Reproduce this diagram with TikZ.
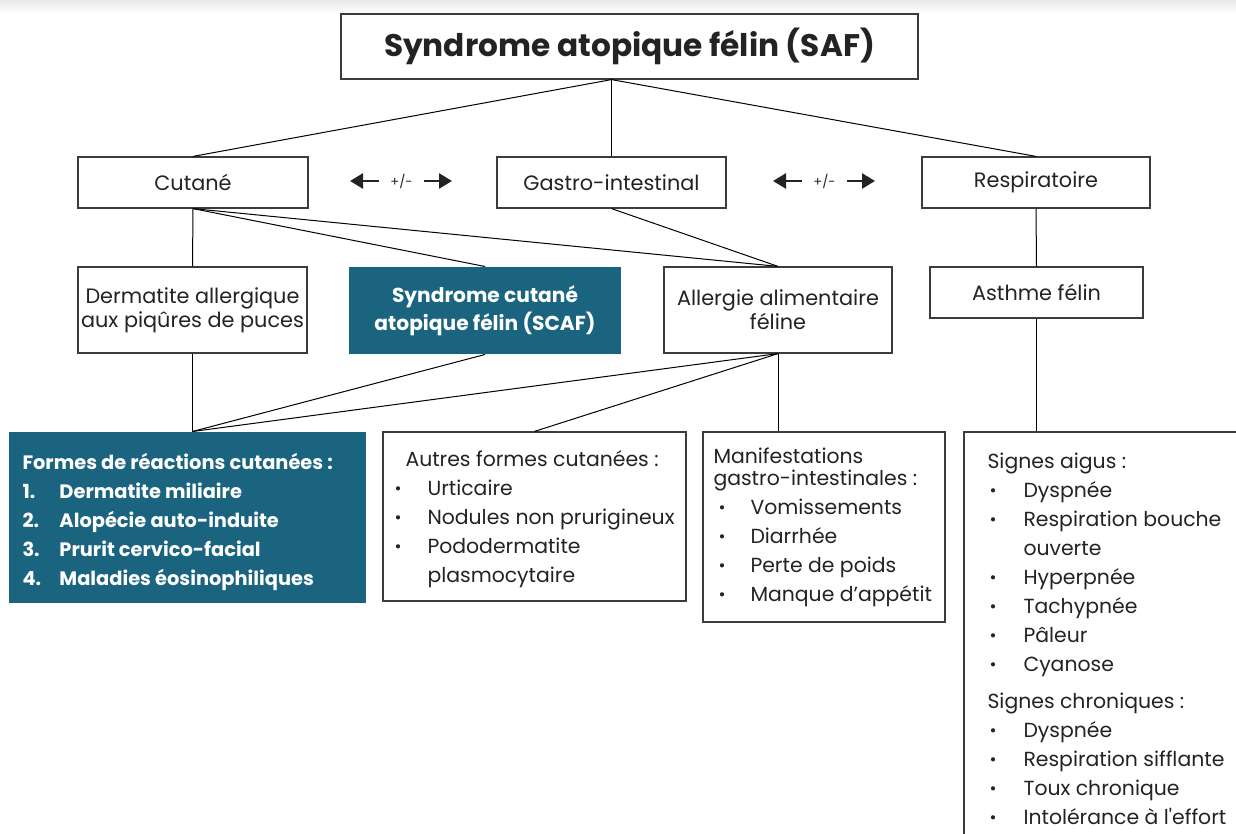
\documentclass[tikz,border=0pt]{standalone}
\usepackage{fontspec}
\setmainfont{Poppins}
\usetikzlibrary{arrows.meta}

\definecolor{scafblue}{RGB}{27,100,128}
\definecolor{ink}{RGB}{35,35,35}
\definecolor{boxline}{RGB}{60,60,60}

\newcommand\boxfont{\fontsize{10.4}{12}\selectfont}
\newcommand\listfont{\fontsize{10.2}{14.5}\selectfont}
\newcommand\tete[1]{\multicolumn{2}{@{}l@{}}{#1}}
\newcommand\puce{{\fontsize{8.5}{8}\selectfont\raisebox{0.2pt}{\textbullet}}}

\begin{document}
\begin{tikzpicture}[x = 0.5pt, y = -0.5pt, line width = 0.5pt,
    box/.style = {rectangle, draw = boxline, line width = 0.6pt, fill = white, inner sep = 0pt, text = ink, font = \boxfont},
    darkbox/.style = {rectangle, fill = scafblue, inner sep = 0pt, text = white, font = \boxfont\bfseries},
    liste/.style = {anchor = base west, inner sep = 0pt, text = ink, font = \listfont},
    pm/.style = {inner sep = 5.5pt, text = ink, font = \fontsize{6.5}{7}\selectfont},
    duo/.style = {-{Triangle[length = 6.5pt, width = 7.5pt]}, line width = 1.3pt, draw = ink}]
  \useasboundingbox (0, 0) rectangle (1236, 834);
  \clip (0, 0) rectangle (1236, 834);
  \shade [top color = black!9, bottom color = white] (0, 0) rectangle (1236, 13);

  \node [box, minimum width = 288.5pt, minimum height = 32.5pt, font = \fontsize{15.6}{17}\selectfont\bfseries] (saf) at (629.5, 46.5) {Syndrome atopique félin (SAF)};

  \node [box, minimum width = 115pt, minimum height = 25.5pt] (cutane) at (193, 182.5) {Cutané};
  \node [box, minimum width = 114.5pt, minimum height = 25.5pt] (gastro) at (611.5, 182.5) {Gastro-intestinal};
  \node [box, minimum width = 114pt, minimum height = 25.5pt] (resp) at (1036, 182.5) {Respiratoire};

  \node [pm] (pm1) at (401.5, 181) {+/-};
  \node [pm] (pm2) at (824.5, 181) {+/-};
  \coordinate (pm1l) at (350, 181);
  \coordinate (pm1r) at (452, 181);
  \coordinate (pm2l) at (773, 181);
  \coordinate (pm2r) at (875, 181);

  \node [box, minimum width = 114.5pt, minimum height = 43pt, align = center] (dermatite) at (192.5, 310) {Dermatite allergique\\aux piqûres de puces};
  \node [darkbox, minimum width = 136pt, minimum height = 43.5pt, align = center, font = \fontsize{10.1}{14}\selectfont\bfseries] (scaf) at (485, 310.5) {Syndrome cutané\\atopique félin (SCAF)};
  \node [box, minimum width = 114pt, minimum height = 43pt, align = center] (allergie) at (778, 310) {Allergie alimentaire\\féline};
  \node [box, minimum width = 106.5pt, minimum height = 25.5pt] (asthme) at (1036.5, 292.5) {Asthme félin};

  \node [darkbox, minimum width = 178.5pt, minimum height = 85.5pt] (formes) at (187.5, 517.5) {};
  \node [box, minimum width = 151.5pt, minimum height = 84.5pt] (autres) at (534.5, 516.5) {};
  \node [box, minimum width = 121pt, minimum height = 95pt] (manif) at (824, 527) {};
  \node [box, minimum width = 148pt, minimum height = 214pt] (signes) at (1112, 646) {};

  \node [liste, text = white, font = \fontsize{9.7}{14.5}\selectfont\bfseries] (formestxt) at (22, 469) {\begin{tabular}[t]{@{}p{18.5pt}@{}l@{}}
    \tete{Formes de réactions cutanées :}\\
    1. & Dermatite miliaire\\
    2. & Alopécie auto-induite\\
    3. & Prurit cervico-facial\\
    4. & Maladies éosinophiliques
  \end{tabular}};
  \node [liste] (autrestxt) at (394, 466) {\begin{tabular}[t]{@{}p{16.5pt}@{}l@{}}
    \tete{\hspace*{5.5pt}Autres formes cutanées :}\\
    \puce & Urticaire\\
    \puce & Nodules non prurigineux\\
    \puce & Pododermatite\\
          & plasmocytaire
  \end{tabular}};
  \node [liste] (maniftxt) at (713, 463) {\begin{tabular}[t]{@{\hspace{2.5pt}}p{16pt}@{}l@{}}
    \tete{Manifestations}\\[-3.5pt]
    \tete{gastro-intestinales :}\\
    \puce & Vomissements\\
    \puce & Diarrhée\\
    \puce & Perte de poids\\
    \puce & Manque d’appétit
  \end{tabular}};
  \node [liste] (signestxt) at (987, 468) {\begin{tabular}[t]{@{\hspace{1pt}}p{17pt}@{}l@{}}
    \tete{Signes aigus :}\\
    \puce & Dyspnée\\
    \puce & Respiration bouche\\
          & ouverte\\
    \puce & Hyperpnée\\
    \puce & Tachypnée\\
    \puce & Pâleur\\
    \puce & Cyanose\\[4pt]
    \tete{Signes chroniques :}\\
    \puce & Dyspnée\\
    \puce & Respiration sifflante\\
    \puce & Toux chronique\\
    \puce & Intolérance à l\textquotesingle effort
  \end{tabular}};

  \coordinate (safj) at (saf.south -| gastro.north);
  \coordinate (formesj) at (formes.north -| dermatite.south);
  \coordinate (manifj) at (manif.north -| allergie.south);
  \coordinate (signesj) at (signes.north -| asthme.south);

  \draw [duo] (pm1.west) -- (pm1l);
  \draw [duo] (pm1.east) -- (pm1r);
  \draw [duo] (pm2.west) -- (pm2l);
  \draw [duo] (pm2.east) -- (pm2r);

  \draw (safj) -- (cutane.north);
  \draw (safj) -- (gastro.north);
  \draw (safj) -- (resp.north);
  \draw (cutane.south) -- (dermatite.north);
  \draw (cutane.south) -- (scaf.north);
  \draw (cutane.south) -- (allergie.north);
  \draw (gastro.south) -- (allergie.north);
  \draw (resp.south) -- (asthme.north);
  \draw (dermatite.south) -- (formesj);
  \draw (scaf.south) -- (formesj);
  \draw (allergie.south) -- (formesj);
  \draw (allergie.south) -- (autres.north);
  \draw (allergie.south) -- (manifj);
  \draw (asthme.south) -- (signesj);
\end{tikzpicture}
\end{document}
